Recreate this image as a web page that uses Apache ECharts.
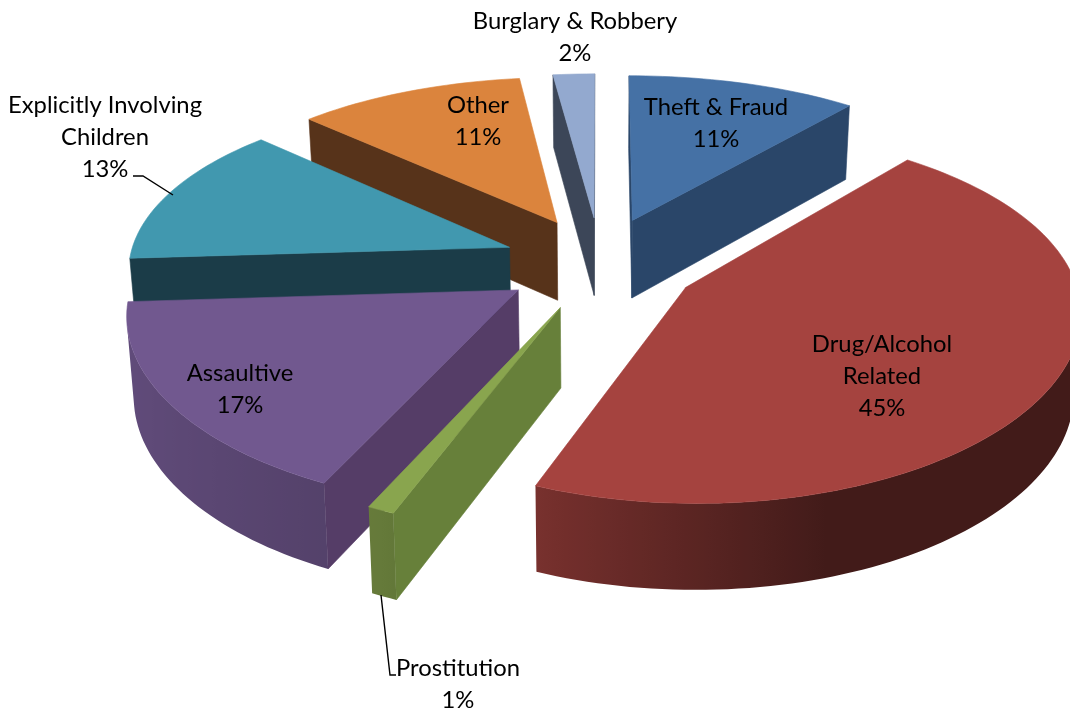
<!DOCTYPE html>
<html>
<head>
<meta charset="utf-8">
<style>html,body{margin:0;padding:0;background:#fff}#c{width:1070px;height:715px}</style>
<script src="https://cdn.jsdelivr.net/npm/echarts@6/dist/echarts.min.js"></script>
</head>
<body>
<div id="c"></div>
<script>
var categories = ['Theft & Fraud', 'Drug/Alcohol\nRelated', 'Prostitution', 'Assaultive', 'Explicitly Involving\nChildren', 'Other', 'Burglary & Robbery'];
var values = [11, 45, 1, 17, 13, 11, 2];
var topColors = ['#4571A5', '#A5433F', '#89A54E', '#71588F', '#4198AF', '#DB843D', '#93A9CF'];
var wallColors = ['#2A4669', '#6E2B2B', '#67803A', '#553D67', '#1B3C48', '#57331A', '#3C4658'];
var drawOrder = [6, 0, 5, 4, 1, 3, 2];
var labelCenters = [[716, 123], [882, 376], [458, 684], [240, 389], [105, 137], [478, 121], [575, 37]];
var leaders = [
  [[133, 176], [143, 176], [173, 195]],
  [[381, 595], [390, 675], [396, 675]]
];

var CX = 600, CY = 263, A_RIGHT = 385, A_LEFT = 381, B = 177, KX = 0.115, KY = 0.145, EXPLODE_U = 0.255, EXPLODE_V = 0.265, DEPTH = 79, BX = 0.985;

function project(u, v, bottom) {
  var sx = 1 / (1 - KX * v), sy = 1 / (1 - KY * v);
  var A = u < 0 ? A_LEFT : A_RIGHT;
  return [CX + A * u * sx * (bottom ? BX : 1), CY + B * v * sy + (bottom ? DEPTH * Math.sqrt(sy) : 0)];
}
function hexRgb(h) { return [parseInt(h.substr(1, 2), 16), parseInt(h.substr(3, 2), 16), parseInt(h.substr(5, 2), 16)]; }
function shadeColor(h, f) { var c = hexRgb(h); return 'rgb(' + c.map(function (x) { return Math.round(x * f); }).join(',') + ')'; }
function shadeAt(nx) {
  if (nx <= -0.4) return 0.74 + (-0.4 - nx) / 0.6 * 0.12;
  if (nx <= 0.3) return 0.74 - (nx + 0.4) / 0.7 * 0.34;
  return 0.4;
}
function area(p) {
  var s = 0;
  for (var i = 0; i < p.length; i++) { var q = p[(i + 1) % p.length]; s += p[i][0] * q[1] - q[0] * p[i][1]; }
  return s;
}
function poly(pts, fill) {
  return { type: 'polygon', shape: { points: pts }, style: { fill: fill, stroke: fill, lineWidth: 0.6 } };
}
var total = values.reduce(function (a, b) { return a + b; }, 0);

function renderSlice(params, api) {
  var i = api.value(0);
  var before = 0;
  for (var j = 0; j < i; j++) before += values[j];
  var a0 = before / total * 2 * Math.PI;
  var a1 = a0 + values[i] / total * 2 * Math.PI;
  var mid = (a0 + a1) / 2;
  var ou = EXPLODE_U * Math.sin(mid), ov = -EXPLODE_V * Math.cos(mid);
  var steps = Math.max(4, Math.round(values[i] * 2.5));
  var tops = [], bots = [], angs = [];
  for (var n = 0; n <= steps; n++) {
    var a = a0 + (a1 - a0) * n / steps;
    var u = ou + Math.sin(a), v = ov - Math.cos(a);
    angs.push(a);
    tops.push(project(u, v, false));
    bots.push(project(u, v, true));
  }
  var apT = project(ou, ov, false), apB = project(ou, ov, true);
  var kids = [];
  [[apT, tops[0], bots[0], apB], [tops[steps], apT, apB, bots[steps]]].forEach(function (q) {
    if (area(q) < 0) kids.push(poly(q, wallColors[i]));
  });
  // outer wall: the facing run of the rim as one shape with a horizontal gradient
  var vis = [];
  for (var m = 0; m < steps; m++) {
    if (area([tops[m], tops[m + 1], bots[m + 1], bots[m]]) < 0) {
      if (!vis.length) vis.push(m);
      vis.push(m + 1);
    }
  }
  if (vis.length) {
    var tp = vis.map(function (k) { return tops[k]; });
    var bp = vis.map(function (k) { return bots[k]; }).reverse();
    var xs = tp.map(function (p) { return p[0]; });
    var xmin = Math.min.apply(null, xs), xmax = Math.max.apply(null, xs);
    var stops = vis.map(function (k) {
      return { x: tops[k][0], c: shadeColor(topColors[i], shadeAt(Math.sin(angs[k]))) };
    }).sort(function (p, q) { return p.x - q.x; }).map(function (s) {
      return { offset: (s.x - xmin) / (xmax - xmin || 1), color: s.c };
    });
    var g = new echarts.graphic.LinearGradient(xmin, 0, xmax, 0, stops, true);
    kids.push({ type: 'polygon', shape: { points: tp.concat(bp) }, style: { fill: g } });
  }
  kids.push(poly([apT].concat(tops), topColors[i]));
  return { type: 'group', children: kids };
}

function renderLabel(params, api) {
  var i = api.value(0);
  return {
    type: 'text',
    style: {
      x: labelCenters[i][0], y: labelCenters[i][1],
      text: categories[i] + '\n' + values[i] + '%',
      align: 'center', verticalAlign: 'middle',
      font: '23.8px Lato', lineHeight: 32, fill: '#000'
    }
  };
}
function renderLeader(params, api) {
  var l = leaders[api.value(0)];
  return { type: 'polyline', shape: { points: l }, style: { fill: null, stroke: '#000', lineWidth: 1.4 } };
}

var chart = echarts.init(document.getElementById('c'), null, { renderer: 'canvas' });
chart.setOption({
  animation: false,
  backgroundColor: '#fff',
  series: [
    { type: 'custom', coordinateSystem: 'none', renderItem: renderSlice, data: drawOrder.map(function (i) { return [i, values[i]]; }), silent: true, z: 1 },
    { type: 'custom', coordinateSystem: 'none', renderItem: renderLeader, data: leaders.map(function (l, i) { return [i]; }), silent: true, z: 2 },
    { type: 'custom', coordinateSystem: 'none', renderItem: renderLabel, data: categories.map(function (c, i) { return [i]; }), silent: true, z: 3 }
  ]
});
</script>
</body>
</html>
